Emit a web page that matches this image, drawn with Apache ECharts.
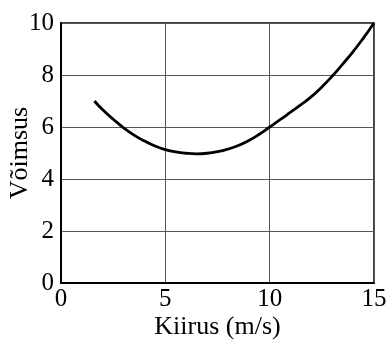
<!DOCTYPE html>
<html>
<head>
<meta charset="utf-8">
<script src="https://cdn.jsdelivr.net/npm/echarts@6/dist/echarts.min.js"></script>
<style>
  html, body { margin: 0; padding: 0; background: #fff; }
  #chart { width: 390px; height: 345px; }
</style>
</head>
<body>
<div id="chart"></div>
<script>
// kiirus (m/s) ja võimsus, loetud pildilt
const speed = [1.6, 2, 2.5, 3, 3.5, 4, 4.5, 5, 5.5, 6, 6.5, 7, 7.5, 8, 8.5, 9, 9.5, 10, 10.5, 11, 11.5, 12, 12.5, 13, 13.5, 14, 14.5, 15];
const power = [7.0, 6.66, 6.3, 5.97, 5.69, 5.46, 5.27, 5.13, 5.04, 4.99, 4.97, 4.99, 5.05, 5.15, 5.29, 5.48, 5.72, 6.0, 6.28, 6.57, 6.86, 7.17, 7.54, 7.96, 8.42, 8.9, 9.43, 10.0];
const xTicks = [0, 5, 10, 15];
const yTicks = [0, 2, 4, 6, 8, 10];

const font = 'Liberation Serif';

var myChart = echarts.init(document.getElementById('chart'));
var option = {
    animation: false,
    grid: {
        left: 61,
        right: 16,
        top: 23,
        bottom: 62,
        outerBoundsMode: 'none',
        containLabel: false,
        show: true,
        borderColor: '#000',
        borderWidth: 1.5
    },
    xAxis: {
        type: 'value',
        min: xTicks[0],
        max: xTicks[xTicks.length - 1],
        interval: 5,
        name: 'Kiirus (m/s)',
        nameLocation: 'middle',
        nameGap: 31,
        nameMoveOverlap: false,
        nameTextStyle: { fontFamily: font, fontSize: 26, color: '#000' },
        axisLine: { lineStyle: { color: '#000', width: 2 } },
        axisTick: { show: false },
        axisLabel: { fontFamily: font, fontSize: 25, color: '#000', margin: 4 },
        splitLine: { lineStyle: { color: '#555', width: 1 } }
    },
    yAxis: {
        type: 'value',
        min: yTicks[0],
        max: yTicks[yTicks.length - 1],
        interval: 2,
        name: 'Võimsus',
        nameLocation: 'middle',
        nameGap: 28,
        nameMoveOverlap: false,
        nameTextStyle: { fontFamily: font, fontSize: 26, color: '#000' },
        axisLine: { show: true, lineStyle: { color: '#000', width: 2 } },
        axisTick: { show: false },
        axisLabel: { fontFamily: font, fontSize: 25, color: '#000', margin: 7 },
        splitLine: { lineStyle: { color: '#555', width: 1 } }
    },
    series: [
        {
            type: 'line',
            data: speed.map((v, i) => [v, power[i]]),
            smooth: true,
            showSymbol: false,
            lineStyle: { color: '#000', width: 2.8 }
        }
    ]
};
option && myChart.setOption(option);
</script>
</body>
</html>
